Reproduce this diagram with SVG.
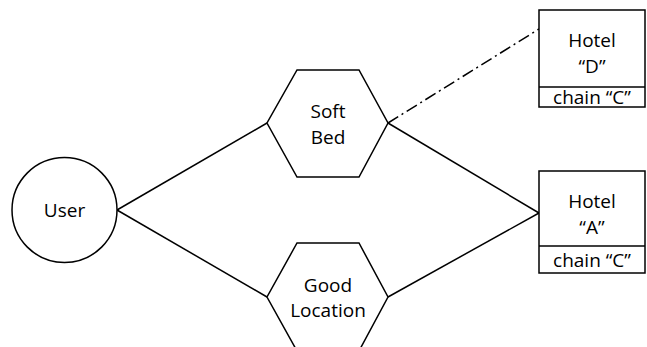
<svg xmlns="http://www.w3.org/2000/svg" width="647" height="347" viewBox="0 0 647 347">
<style>
.s{fill:#fff;stroke:#000;stroke-width:1.5}
.c{fill:none;stroke:#000;stroke-width:1.5}
text{font-family:"Open Sans","Liberation Sans",sans-serif;font-size:19px;fill:#000;text-anchor:middle}
</style>
<rect width="647" height="347" fill="#fff"/>
<g id="connectors">
<line class="c" x1="117" y1="210" x2="267" y2="123"/>
<line class="c" x1="117" y1="210" x2="267" y2="297"/>
<line class="c" x1="388" y1="123" x2="539" y2="213"/>
<line class="c" x1="388" y1="297" x2="539" y2="213"/>
<line class="c" x1="388" y1="123" x2="539" y2="29" stroke-dasharray="12,4,2,4"/>
</g>
<g id="user">
<circle class="s" cx="64.5" cy="210" r="52.5"/>
<text x="64.5" y="217">User</text>
</g>
<g id="softbed">
<polygon class="s" points="297,70 359,70 388,123 359,177 297,177 267,123"/>
<text x="328" y="118">Soft</text>
<text x="328" y="144">Bed</text>
</g>
<g id="goodlocation">
<polygon class="s" points="297,243 359,243 388,297 359,351 297,351 267,297"/>
<text x="328" y="292">Good</text>
<text x="328" y="317">Location</text>
</g>
<g id="hotelD">
<rect class="s" x="539" y="10" width="106" height="97"/>
<line class="c" x1="539" y1="87" x2="645" y2="87"/>
<text x="592" y="47">Hotel</text>
<text x="592" y="73">“D”</text>
<text x="592" y="104">chain “C”</text>
</g>
<g id="hotelA">
<rect class="s" x="539" y="171" width="106" height="102"/>
<line class="c" x1="539" y1="246" x2="645" y2="246"/>
<text x="592" y="208">Hotel</text>
<text x="592" y="234">“A”</text>
<text x="592" y="267">chain “C”</text>
</g>
</svg>
